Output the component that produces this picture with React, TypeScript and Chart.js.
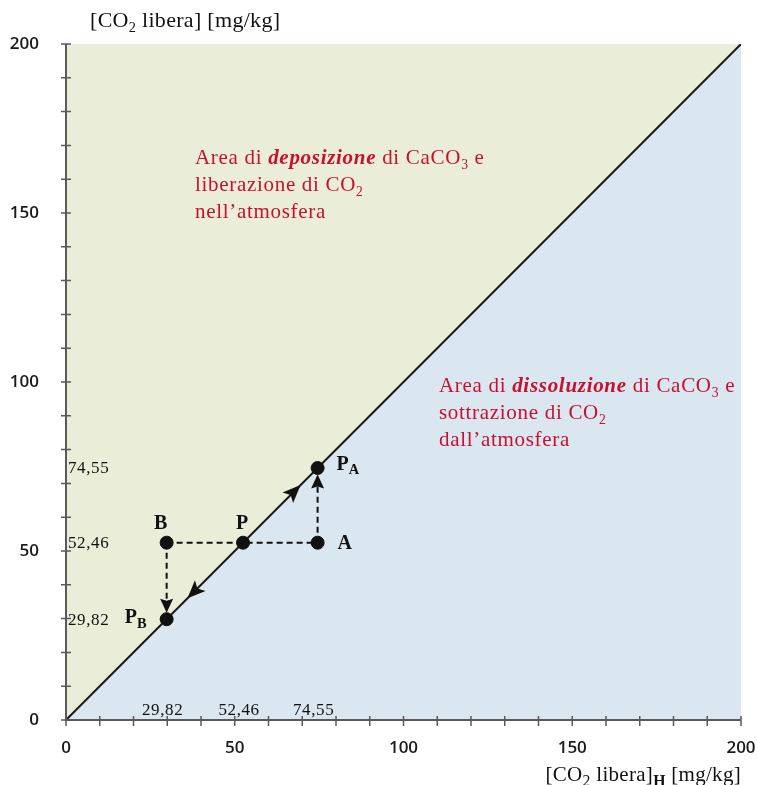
import React, { useEffect, useRef } from 'react';
import { Chart, registerables } from 'chart.js';
Chart.register(...registerables);

// ---- data ----
const axisMin = 0;
const axisMax = 200;
const minorStep = 10;
const majorStep = 50;
const equilibriumX = [0, 200];
const equilibriumY = [0, 200];
const pointNames = ['B', 'P', 'A', 'PA', 'PB'];
const pointX = [29.82, 52.46, 74.55, 74.55, 29.82];
const pointY = [52.46, 52.46, 52.46, 74.55, 29.82];
const readingValues = [29.82, 52.46, 74.55];
const readingLabels = ['29,82', '52,46', '74,55'];
const flowArrowUpAt = 69.5;
const flowArrowDownAt = 36;
const depositionText = 'deposizione';
const dissolutionText = 'dissoluzione';

const GREEN = 'rgb(234,238,217)';
const BLUE = 'rgb(218,230,240)';
const RED = '#C8102E';
const SERIF = '"Liberation Serif", "Times New Roman", serif';

type Seg = { t: string; sub?: boolean; italic?: boolean; bold?: boolean };

function drawRich(ctx: any, x: number, y: number, segs: Seg[], size: number, color: string, align: 'left' | 'center' | 'right', baseBold = false, subScale = 0.65, spacing = 0) {
  const fontFor = (s: Seg) => {
    const sz = s.sub ? size * subScale : size;
    return `${s.italic ? 'italic ' : ''}${s.bold || baseBold ? 'bold ' : ''}${sz}px ${SERIF}`;
  };
  ctx.letterSpacing = `${spacing}px`;
  let total = 0;
  for (const s of segs) { ctx.font = fontFor(s); total += ctx.measureText(s.t).width; }
  let cx = align === 'left' ? x : align === 'center' ? x - total / 2 : x - total;
  ctx.fillStyle = color;
  ctx.textAlign = 'left';
  ctx.textBaseline = 'alphabetic';
  for (const s of segs) {
    ctx.font = fontFor(s);
    ctx.fillText(s.t, cx, s.sub ? y + size * 0.22 : y);
    cx += ctx.measureText(s.t).width;
  }
  ctx.letterSpacing = '0px';
}

function arrowHead(ctx: CanvasRenderingContext2D, tx: number, ty: number, dx: number, dy: number, len = 18, half = 7.5, notch = 4) {
  const n = Math.hypot(dx, dy); dx /= n; dy /= n;
  const bx = tx - dx * len, by = ty - dy * len;
  const px = -dy, py = dx;
  ctx.beginPath();
  ctx.moveTo(tx, ty);
  ctx.lineTo(bx + px * half, by + py * half);
  ctx.lineTo(bx + dx * notch, by + dy * notch);
  ctx.lineTo(bx - px * half, by - py * half);
  ctx.closePath();
  ctx.fillStyle = '#111';
  ctx.fill();
}

const overlay = {
  id: 'overlay',
  afterDatasetsDraw(chart: any) {
    const { ctx, chartArea: ca, scales } = chart;
    const xs = scales.x, ys = scales.y;
    const px = (v: number) => xs.getPixelForValue(v);
    const py = (v: number) => ys.getPixelForValue(v);
    ctx.save();
    // axes
    ctx.strokeStyle = '#5a5a5a';
    ctx.lineWidth = 2;
    ctx.beginPath();
    ctx.moveTo(ca.left, ca.top); ctx.lineTo(ca.left, ca.bottom); ctx.lineTo(ca.right, ca.bottom);
    ctx.stroke();
    ctx.lineWidth = 1.5;
    ctx.beginPath();
    for (const t of ys.ticks) { const y = py(t.value); ctx.moveTo(ca.left - 5, y); ctx.lineTo(ca.left + 5, y); }
    for (const t of xs.ticks) { const x = px(t.value); ctx.moveTo(x, ca.bottom - 4); ctx.lineTo(x, ca.bottom + 6); }
    ctx.stroke();

    // arrowheads along equilibrium line
    arrowHead(ctx, px(flowArrowUpAt), py(flowArrowUpAt), 1, -1);
    arrowHead(ctx, px(flowArrowDownAt), py(flowArrowDownAt), -1, 1);
    // vertical arrows
    const r = 6.5;
    arrowHead(ctx, px(pointX[2]), py(pointY[3]) + r, 0, -1, 14, 6.5, 2);
    arrowHead(ctx, px(pointX[4]), py(pointY[4]) - r, 0, 1, 14, 6.5, 2);

    // point labels
    const lab = (i: number) => ({ x: px(pointX[i]), y: py(pointY[i]) });
    let p = lab(0); drawRich(ctx, p.x - 6, p.y - 14, [{ t: 'B' }], 20, '#111', 'center', true);
    p = lab(1); drawRich(ctx, p.x - 1, p.y - 14, [{ t: 'P' }], 20, '#111', 'center', true);
    p = lab(2); drawRich(ctx, p.x + 20, p.y + 6, [{ t: 'A' }], 20, '#111', 'left', true);
    p = lab(3); drawRich(ctx, p.x + 19, p.y + 2, [{ t: 'P' }, { t: 'A', sub: true }], 20, '#111', 'left', true, 0.72);
    p = lab(4); drawRich(ctx, p.x - 20, p.y + 4, [{ t: 'P' }, { t: 'B', sub: true }], 20, '#111', 'right', true, 0.72);

    // reading values
    ctx.fillStyle = '#111';
    ctx.font = `17px ${SERIF}`;
    ctx.letterSpacing = '0.6px';
    ctx.textAlign = 'left';
    ctx.textBaseline = 'middle';
    readingValues.forEach((v, i) => ctx.fillText(readingLabels[i], ca.left + 2, py(v) + 1));
    ctx.textAlign = 'center';
    ctx.textBaseline = 'alphabetic';
    readingValues.forEach((v, i) => ctx.fillText(readingLabels[i], px(v) - 4, ca.bottom - 5));
    ctx.letterSpacing = '0px';

    // region texts
    const lh = 27;
    let ax = px(38.2), ay = py(164.4);
    drawRich(ctx, ax, ay, [{ t: 'Area di ' }, { t: depositionText, italic: true, bold: true }, { t: ' di CaCO' }, { t: '3', sub: true }, { t: ' e' }], 21, RED, 'left', false, 0.65, 0.7);
    drawRich(ctx, ax, ay + lh, [{ t: 'liberazione di CO' }, { t: '2', sub: true }], 21, RED, 'left', false, 0.65, 0.7);
    drawRich(ctx, ax, ay + 2 * lh, [{ t: 'nell\u2019atmosfera' }], 21, RED, 'left', false, 0.65, 0.7);
    ax = px(110.5); ay = py(97);
    drawRich(ctx, ax, ay, [{ t: 'Area di ' }, { t: dissolutionText, italic: true, bold: true }, { t: ' di CaCO' }, { t: '3', sub: true }, { t: ' e' }], 21, RED, 'left', false, 0.65, 0.7);
    drawRich(ctx, ax, ay + lh, [{ t: 'sottrazione di CO' }, { t: '2', sub: true }], 21, RED, 'left', false, 0.65, 0.7);
    drawRich(ctx, ax, ay + 2 * lh, [{ t: 'dall\u2019atmosfera' }], 21, RED, 'left', false, 0.65, 0.7);

    // axis titles
    drawRich(ctx, ca.left + 24, ca.top - 17, [{ t: '[CO' }, { t: '2', sub: true }, { t: ' libera] [mg/kg]' }], 22, '#111', 'left', false, 0.65, 0.3);
    drawRich(ctx, ca.right, ca.bottom + 61, [{ t: '[CO' }, { t: '2', sub: true }, { t: ' libera]' }, { t: 'H', sub: true, bold: true }, { t: ' [mg/kg]' }], 21, '#111', 'right', false, 0.75, 0.3);
    ctx.restore();
  },
};

export default function App() {
  const ref = useRef<HTMLCanvasElement>(null);
  useEffect(() => {
    const line = equilibriumX.map((x, i) => ({ x, y: equilibriumY[i] }));
    const pts = pointX.map((x, i) => ({ x, y: pointY[i] }));
    const dash = { borderColor: '#111', borderWidth: 2, borderDash: [6, 4], pointRadius: 0, fill: false, showLine: true };
    const tickFont = { family: '"Open Sans", sans-serif', size: 17, weight: 600 as any };
    const chart = new Chart(ref.current!, {
      type: 'scatter',
      data: {
        datasets: [
          { label: 'punti', data: pts, pointRadius: 6.5, pointBackgroundColor: '#111', pointBorderColor: '#111', showLine: false } as any,
          { label: 'B-A', data: [pts[0], pts[2]], ...dash } as any,
          { label: 'A-PA', data: [pts[2], pts[3]], ...dash } as any,
          { label: 'B-PB', data: [pts[0], pts[4]], ...dash } as any,
          { label: 'equilibrio', data: line, showLine: true, borderColor: '#1a1a1a', borderWidth: 2, pointRadius: 0, fill: false } as any,
          { label: 'deposizione', data: line, showLine: true, borderWidth: 0, pointRadius: 0, fill: 'end', backgroundColor: GREEN } as any,
          { label: 'dissoluzione', data: line, showLine: true, borderWidth: 0, pointRadius: 0, fill: 'start', backgroundColor: BLUE } as any,
        ],
      },
      options: {
        animation: false,
        responsive: false,
        events: [],
        layout: { padding: { left: 0, top: 44, right: 16, bottom: 0 } },
        plugins: { legend: { display: false }, tooltip: { enabled: false }, filler: { drawTime: 'beforeDatasetsDraw' } as any },
        scales: {
          x: {
            type: 'linear', min: axisMin, max: axisMax,
            grid: { display: false, drawTicks: false }, border: { display: false },
            afterFit: (s: any) => { s.height = 65; s.paddingLeft = 0; s.paddingRight = 0; },
            ticks: { stepSize: minorStep, autoSkip: false, maxRotation: 0, padding: 18, color: '#1a1a1a', font: tickFont,
              callback: (v: any) => (Number(v) % majorStep === 0 ? String(v) : '') },
          },
          y: {
            type: 'linear', min: axisMin, max: axisMax,
            grid: { display: false, drawTicks: false }, border: { display: false },
            afterFit: (s: any) => { s.width = 66; s.paddingTop = 0; s.paddingBottom = 0; },
            ticks: { stepSize: minorStep, autoSkip: false, padding: 27, color: '#1a1a1a', font: tickFont,
              callback: (v: any) => (Number(v) % majorStep === 0 ? String(v) : '') },
          },
        },
      },
      plugins: [overlay],
    });
    return () => chart.destroy();
  }, []);
  return (
    <div style={{ position: 'fixed', left: 0, top: 0, width: 757, height: 785, background: '#fff' }}>
      <canvas ref={ref} width={757} height={785} style={{ display: 'block' }} />
    </div>
  );
}
